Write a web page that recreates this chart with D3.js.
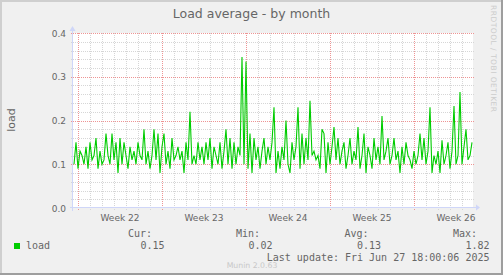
<!DOCTYPE html>
<html>
<head>
<meta charset="utf-8">
<script src="https://cdn.jsdelivr.net/npm/d3@7"></script>
<style>
  body { margin: 0; background: #f0f0f0; }
  svg { display: block; }
</style>
</head>
<body>
<svg id="chart"></svg>
<script>
// load average, one value every 4 hours
const loadValues = [
  0.10, 0.15, 0.09, 0.13, 0.12, 0.10, 0.14, 0.09, 0.15, 0.11, 0.12, 0.16, 0.09, 0.13, 0.10, 0.11, 0.17,
  0.12, 0.10, 0.17, 0.11, 0.15, 0.08, 0.16, 0.10, 0.15, 0.12, 0.09, 0.14, 0.11, 0.13, 0.10, 0.15, 0.12,
  0.11, 0.18, 0.10, 0.13, 0.09, 0.12, 0.18, 0.11, 0.17, 0.08, 0.14, 0.17, 0.10, 0.13, 0.09, 0.16, 0.11,
  0.12, 0.14, 0.11, 0.13, 0.08, 0.15, 0.11, 0.22, 0.10, 0.12, 0.10, 0.15, 0.11, 0.14, 0.10, 0.15,
  0.11, 0.16, 0.09, 0.14, 0.12, 0.10, 0.15, 0.09, 0.13, 0.18, 0.10, 0.16, 0.09, 0.15, 0.10, 0.14, 0.12,
  0.345, 0.10, 0.335, 0.09, 0.17, 0.08, 0.16, 0.11, 0.14, 0.09, 0.13, 0.16, 0.10, 0.14, 0.11, 0.15, 0.23,
  0.08, 0.13, 0.09, 0.14, 0.11, 0.20, 0.10, 0.08, 0.15, 0.11, 0.14, 0.23, 0.09, 0.17, 0.10, 0.16, 0.11,
  0.245, 0.12, 0.13, 0.11, 0.12, 0.09, 0.18, 0.17, 0.08, 0.15, 0.10, 0.14, 0.185, 0.11, 0.16, 0.10, 0.13,
  0.15, 0.09, 0.12, 0.16, 0.10, 0.13, 0.11, 0.185, 0.09, 0.12, 0.17, 0.08, 0.14, 0.12, 0.09, 0.16, 0.11,
  0.14, 0.10, 0.21, 0.11, 0.13, 0.16, 0.10, 0.12, 0.16, 0.11, 0.13, 0.08, 0.14, 0.10, 0.15, 0.12,
  0.11, 0.09, 0.13, 0.10, 0.12, 0.17, 0.11, 0.16, 0.10, 0.13, 0.23, 0.08, 0.12, 0.10, 0.13, 0.08, 0.155,
  0.10, 0.12, 0.15, 0.09, 0.13, 0.233, 0.10, 0.12, 0.265, 0.10, 0.14, 0.18, 0.11, 0.12, 0.15
];
const weekLabels = ["Week 22", "Week 23", "Week 24", "Week 25", "Week 26"];
const yTicks = [0, 0.1, 0.2, 0.3, 0.4];
const seriesName = "load";
const statNames = ["Cur:", "Min:", "Avg:", "Max:"];
const statValues = ["0.15", "0.02", "0.13", "1.82"];
const lastUpdate = "Last update: Fri Jun 27 18:00:06 2025";

const width = 503, height = 275;
const plot = { left: 73, right: 473, top: 33, bottom: 208 };
const HOUR = 3600 * 1000;

// first week boundary (Mon May 26) sits 5px right of the plot's left edge, 2h per px
const firstMonday = Date.UTC(2025, 4, 26);
const t0 = new Date(firstMonday - 10 * HOUR);
const t1 = new Date(t0.getTime() + 800 * HOUR);
const data = loadValues.map((v, i) => ({ t: new Date(t0.getTime() + (2 + i * 4) * HOUR), v: v }));

const x = d3.scaleUtc().domain([t0, t1]).range([plot.left, plot.right]);
const y = d3.scaleLinear().domain([0, 0.4]).range([plot.bottom, plot.top]);

const svg = d3.select("#chart").attr("width", width).attr("height", height);

svg.append("rect").attr("width", width).attr("height", height).attr("fill", "#f0f0f0");
// 3d border: light top/left, dark bottom/right
svg.append("rect").attr("x", 0).attr("y", 0).attr("width", width).attr("height", 2).attr("fill", "#cfcfcf");
svg.append("rect").attr("x", 0).attr("y", 0).attr("width", 2).attr("height", height).attr("fill", "#cfcfcf");
svg.append("rect").attr("x", 0).attr("y", height - 2).attr("width", width).attr("height", 2).attr("fill", "#9e9e9e");
svg.append("rect").attr("x", width - 2).attr("y", 0).attr("width", 2).attr("height", height).attr("fill", "#9e9e9e");

svg.append("rect")
  .attr("x", plot.left).attr("y", plot.top)
  .attr("width", plot.right - plot.left).attr("height", plot.bottom - plot.top)
  .attr("fill", "#ffffff");

const mondays = d3.utcMonday.range(t0, t1);
const days = d3.utcDay.range(t0, t1).filter(d => d.getUTCDay() !== 1);
const minorY = d3.range(1, 21).map(k => k * 0.02).filter((v, k) => (k + 1) % 5 !== 0);

// grid drawn as 1px dots (rects) so the pattern stays crisp
const dotsAlong = (a, b) => d3.range(Math.ceil(a), b, 2);
const gridMinor = svg.append("g").attr("fill", "#d6d6d6");
days.forEach(d => {
  const gx = Math.round(x(d));
  gridMinor.selectAll(null).data(dotsAlong(plot.top, plot.bottom + 2)).join("rect")
    .attr("x", gx).attr("y", v => v).attr("width", 1).attr("height", 1);
});
minorY.forEach(d => {
  const gy = Math.round(y(d));
  gridMinor.selectAll(null).data(dotsAlong(plot.left - 2, plot.right + 2)).join("rect")
    .attr("x", v => v).attr("y", gy).attr("width", 1).attr("height", 1);
});

const gridMajor = svg.append("g").attr("fill", "#ee9494");
mondays.forEach(d => {
  const gx = Math.round(x(d));
  gridMajor.selectAll(null).data(dotsAlong(plot.top, plot.bottom + 3)).join("rect")
    .attr("x", gx).attr("y", v => v).attr("width", 1).attr("height", 1);
});
yTicks.slice(1).forEach(d => {
  const gy = Math.round(y(d));
  gridMajor.selectAll(null).data(dotsAlong(plot.left - 2, plot.right + 2)).join("rect")
    .attr("x", v => v).attr("y", gy).attr("width", 1).attr("height", 1);
});

// axes with arrows
const axisColor = "#cfd6f8";
const axes = svg.append("g").attr("shape-rendering", "crispEdges");
axes.append("line").attr("x1", plot.left - 3).attr("x2", plot.right + 4)
  .attr("y1", plot.bottom - 0.5).attr("y2", plot.bottom - 0.5).attr("stroke", axisColor);
axes.append("line").attr("x1", plot.left - 0.5).attr("x2", plot.left - 0.5)
  .attr("y1", plot.bottom + 3).attr("y2", plot.top - 3).attr("stroke", axisColor);
svg.append("path")
  .attr("d", `M${plot.right + 3},${plot.bottom - 3.5} L${plot.right + 7},${plot.bottom - 0.5} L${plot.right + 3},${plot.bottom + 2.5} Z`)
  .attr("fill", axisColor);
svg.append("path")
  .attr("d", `M${plot.left - 3.5},${plot.top - 2} L${plot.left - 0.5},${plot.top - 7} L${plot.left + 2.5},${plot.top - 2} Z`)
  .attr("fill", axisColor);

// series
const line = d3.line().x(d => x(d.t)).y(d => y(d.v));
svg.append("path").datum(data)
  .attr("d", line)
  .attr("fill", "none")
  .attr("stroke", "#00cc00")
  .attr("stroke-width", 1.1);

const font = "'DejaVu Sans', sans-serif";
const mono = "'DejaVu Sans Mono', monospace";
const fontColor = "#666666";

svg.append("text")
  .attr("x", 251.5).attr("y", 18)
  .attr("text-anchor", "middle")
  .attr("font-family", font).attr("font-size", "12.5px").attr("fill", fontColor)
  .text("Load average - by month");

svg.selectAll(".ytick").data(yTicks).join("text")
  .attr("x", 66).attr("y", d => y(d) + 3.5)
  .attr("text-anchor", "end")
  .attr("font-family", font).attr("font-size", "9px").attr("fill", fontColor)
  .text(d => d.toFixed(1));

svg.selectAll(".xtick").data(mondays).join("text")
  .attr("x", d => x(new Date(d.getTime() + 84 * HOUR)))
  .attr("y", 221)
  .attr("text-anchor", "middle")
  .attr("font-family", font).attr("font-size", "9px").attr("fill", fontColor)
  .text((d, i) => weekLabels[i]);

svg.append("text")
  .attr("transform", "translate(15,120) rotate(-90)")
  .attr("text-anchor", "middle")
  .attr("font-family", font).attr("font-size", "11px").attr("fill", fontColor)
  .text("load");

// legend
svg.append("rect").attr("x", 14).attr("y", 243).attr("width", 6).attr("height", 6).attr("fill", "#00cc00");
svg.append("text").attr("x", 26).attr("y", 249)
  .attr("font-family", mono).attr("font-size", "10px").attr("fill", fontColor)
  .text(seriesName);

const statX = [152, 260, 368.5, 477];
svg.selectAll(".statName").data(statNames).join("text")
  .attr("x", (d, i) => statX[i]).attr("y", 237)
  .attr("text-anchor", "end")
  .attr("font-family", mono).attr("font-size", "10px").attr("fill", fontColor)
  .text(d => d);
svg.selectAll(".statVal").data(statValues).join("text")
  .attr("x", (d, i) => statX[i] + 12.5).attr("y", 249)
  .attr("text-anchor", "end")
  .attr("font-family", mono).attr("font-size", "10px").attr("fill", fontColor)
  .text(d => d);

svg.append("text").attr("x", 489.5).attr("y", 261)
  .attr("text-anchor", "end")
  .attr("font-family", mono).attr("font-size", "10px").attr("fill", fontColor)
  .text(lastUpdate);

svg.append("text").attr("x", 252).attr("y", 268)
  .attr("text-anchor", "middle")
  .attr("font-family", font).attr("font-size", "7.75px").attr("fill", "#c8c8c8")
  .text("Munin 2.0.63");

svg.append("text")
  .attr("transform", "translate(490.5,5) rotate(90)")
  .attr("font-family", font).attr("font-size", "7.5px").attr("fill", "#cccccc")
  .attr("textLength", 107).attr("lengthAdjust", "spacing")
  .text("RRDTOOL / TOBI OETIKER");
</script>
</body>
</html>
